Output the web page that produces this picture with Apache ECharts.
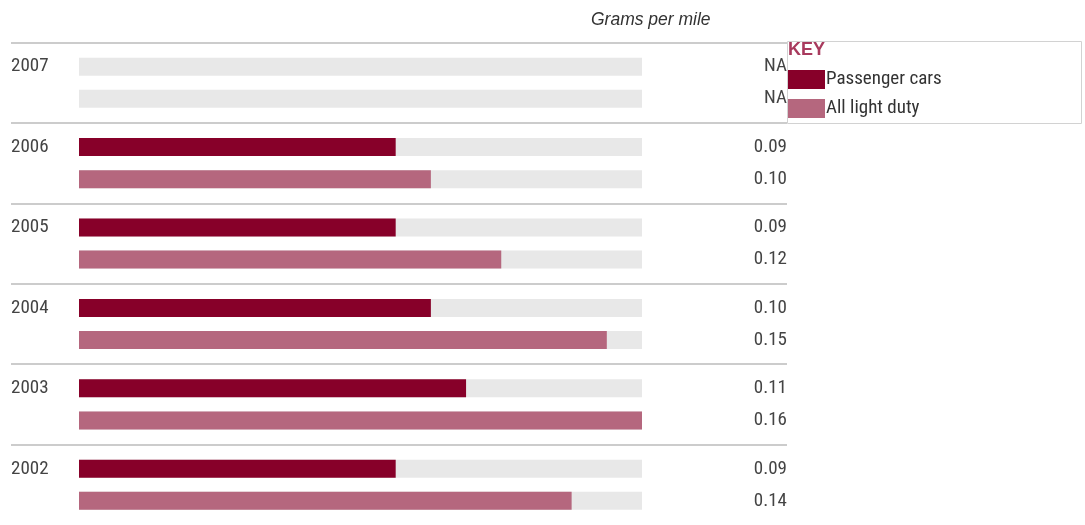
<!DOCTYPE html>
<html>
<head>
<meta charset="utf-8">
<script src="https://cdn.jsdelivr.net/npm/echarts@6/dist/echarts.min.js"></script>
<style>
  html, body { margin: 0; padding: 0; background: #fff; }
  #chart { width: 1085px; height: 525px; }
</style>
</head>
<body>
<div id="chart"></div>
<script>
// Emissions by model year, grams per mile (null = not available)
const years = ['2007', '2006', '2005', '2004', '2003', '2002'];
const passengerCars = [null, 0.09, 0.09, 0.10, 0.11, 0.09];
const allLightDuty = [null, 0.10, 0.12, 0.15, 0.16, 0.14];
const seriesNames = ['Passenger cars', 'All light duty'];
const unitLabel = 'Grams per mile';
const keyTitle = 'KEY';

const NARROW = '"Roboto Condensed", "Liberation Sans", Arial, sans-serif';
const SANS = '"Liberation Sans", Arial, sans-serif';
const COLORS = ['#870029', '#b5677e'];
const VALUE_RIGHT = 787;  // right edge of the value column
const PLOT_TOP = 42.5;
const PLOT_HEIGHT = 484;

function toItems(arr) {
  return arr.map(v => v == null ? { value: 0, na: true } : { value: v });
}

function barSeries(name, arr, color) {
  return {
    name: name,
    type: 'bar',
    xAxisIndex: 0,
    yAxisIndex: 0,
    data: toItems(arr),
    barWidth: 18,
    barGap: '78%',
    itemStyle: { color: color },
    showBackground: true,
    backgroundStyle: { color: '#e8e8e8' },
    label: {
      show: true,
      position: 'right',
      fontFamily: NARROW,
      fontSize: 19,
      color: '#444',
      formatter: p => p.data.na ? 'NA' : p.value.toFixed(2)
    },
    labelLayout: () => ({ x: VALUE_RIGHT, align: 'right', verticalAlign: 'middle' }),
    emphasis: { disabled: true },
    silent: true
  };
}

const chart = echarts.init(document.getElementById('chart'));
chart.setOption({
  animation: false,
  backgroundColor: '#fff',
  title: [
    {
      text: unitLabel, left: 591, top: 11, padding: 0,
      textStyle: { fontFamily: SANS, fontStyle: 'italic', fontWeight: 'normal', fontSize: 17.5, color: '#333' }
    },
    {
      text: keyTitle, left: 788, top: 41, padding: 0,
      textStyle: { fontFamily: SANS, fontWeight: 'bold', fontSize: 18, color: '#a83a5d' }
    }
  ],
  graphic: [{
    type: 'rect', z: -1,
    shape: { x: 787.5, y: 41.5, width: 294, height: 82 },
    style: { fill: 'none', stroke: '#d2d2d2', lineWidth: 1 }
  }],
  legend: {
    orient: 'vertical', left: 788, top: 70, padding: 0,
    itemWidth: 37, itemHeight: 19, itemGap: 10,
    icon: 'rect',
    selectedMode: false,
    data: seriesNames,
    textStyle: { fontFamily: NARROW, fontSize: 19, color: '#333', padding: [0, 0, 0, -4] }
  },
  grid: [
    // bars
    { left: 79, width: 563, top: PLOT_TOP, height: PLOT_HEIGHT },
    // row separators spanning labels and values
    { left: 11, width: 776, top: PLOT_TOP, height: PLOT_HEIGHT }
  ],
  xAxis: [
    { type: 'value', gridIndex: 0, min: 0, max: 0.16, show: false },
    { type: 'value', gridIndex: 1, min: 0, max: 1, show: false }
  ],
  yAxis: [
    {
      type: 'category', gridIndex: 0, data: years, inverse: true,
      axisLine: { show: false }, axisTick: { show: false }, splitLine: { show: false },
      axisLabel: {
        align: 'left', margin: 68, verticalAlign: 'middle',
        formatter: v => '{y|' + v + '}\n{s|}',
        rich: {
          y: { fontFamily: NARROW, fontSize: 19, color: '#444', lineHeight: 20 },
          s: { lineHeight: 32 }
        }
      }
    },
    {
      type: 'category', gridIndex: 1, data: years, inverse: true,
      axisLine: { show: false }, axisTick: { show: false }, axisLabel: { show: false },
      splitLine: { show: true, showMaxLine: false, lineStyle: { color: '#cccccc', width: 2 } }
    }
  ],
  series: [
    barSeries(seriesNames[0], passengerCars, COLORS[0]),
    barSeries(seriesNames[1], allLightDuty, COLORS[1])
  ]
});
</script>
</body>
</html>
